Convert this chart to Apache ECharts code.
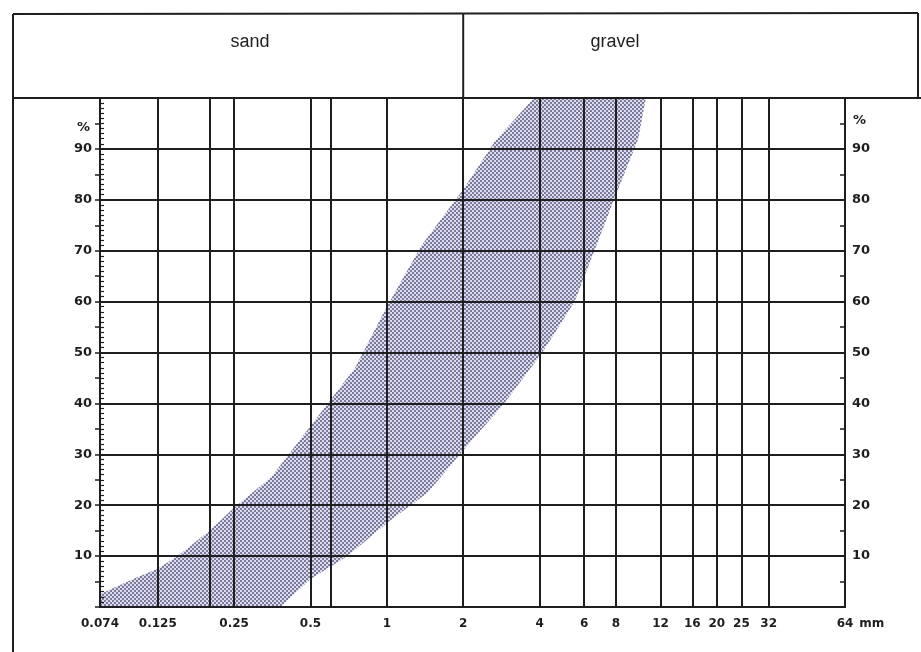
<!DOCTYPE html>
<html>
<head>
<meta charset="utf-8">
<script src="https://cdn.jsdelivr.net/npm/echarts@6/dist/echarts.min.js"></script>
<style>
  html, body { margin: 0; padding: 0; background: #fff; }
  #main { width: 921px; height: 652px; }
</style>
</head>
<body>
<div id="main"></div>
<script>
// grain sizes in mm (log axis)
var sizeTicks = [0.074, 0.125, 0.2, 0.25, 0.5, 0.6, 1, 2, 4, 6, 8, 12, 16, 20, 25, 32, 64];
var sizeLabels = [0.074, 0.125, 0.25, 0.5, 1, 2, 4, 6, 8, 12, 16, 20, 25, 32, 64];
var pctTicks = [10, 20, 30, 40, 50, 60, 70, 80, 90];

// band: upper limit (fine side), % passing
var upperSize = [0.074, 0.1, 0.125, 0.15, 0.2, 0.25, 0.35, 0.5, 0.75, 1, 1.37, 2, 2.67, 3.8];
var upperPct  = [2.5,   5.5, 7.5,   10,   15,  19.5, 25.5, 35.5, 47,   59, 71,  82, 91.5, 100];
// band: lower limit (coarse side)
var lowerSize = [10.5, 9.8, 8,  6.7, 5.5, 4.1, 2.9, 2.1, 1.45, 1,    0.7, 0.5, 0.38, 0.074];
var lowerPct  = [100,  92,  81, 71,  60,  50,  40,  32,  22.5, 16.5, 10,  5.5, 0,    0];

var ink = '#1e1e1e';
var myChart = echarts.init(document.getElementById('main'));

// dotted fill like the printed screen
var pat = document.createElement('canvas');
pat.width = 4; pat.height = 4;
var pc = pat.getContext('2d');
pc.fillStyle = '#dcdcee';
pc.fillRect(0, 0, 4, 4);
pc.fillStyle = '#7a7a9a';
pc.fillRect(0, 0, 2, 2);
pc.fillRect(2, 2, 2, 2);

var bandPoints = [];
for (var i = 0; i < upperSize.length; i++) bandPoints.push([upperSize[i], upperPct[i]]);
for (var j = 0; j < lowerSize.length; j++) bandPoints.push([lowerSize[j], lowerPct[j]]);

var fam = 'DejaVu Sans';

option = {
    backgroundColor: '#fff',
    animation: false,
    grid: { left: 100, right: 76, top: 98, bottom: 45, containLabel: false },
    xAxis: {
        type: 'log',
        logBase: 10,
        min: 0.074,
        max: 64,
        z: 10,
        axisLine: { show: true, lineStyle: { color: ink, width: 2 } },
        axisTick: { show: false, customValues: sizeTicks },
        axisLabel: {
            customValues: sizeLabels,
            margin: 11,
            fontSize: 12,
            fontFamily: fam,
            fontWeight: 'bold',
            color: ink,
            formatter: function (v) { return String(+v.toPrecision(3)); }
        },
        splitLine: { show: true, lineStyle: { color: ink, width: 2 } },
        name: 'mm',
        nameLocation: 'end',
        nameGap: 13,
        nameTextStyle: { fontSize: 12, fontFamily: fam, fontWeight: 'bold', color: ink, verticalAlign: 'top', padding: [11, 0, 0, 0] }
    },
    yAxis: [
        {
            type: 'value', position: 'left', min: 0, max: 100, interval: 10, z: 10,
            axisLine: { show: true, lineStyle: { color: ink, width: 2 } },
            axisTick: { show: true, inside: true, length: 5, lineStyle: { color: ink, width: 1.5 } },
            minorTick: { show: true, splitNumber: 10, length: 4, lineStyle: { color: ink, width: 1.2 } },
            axisLabel: {
                margin: 8, fontSize: 13, fontFamily: fam, fontWeight: 'bold', color: ink,
                formatter: function (v) { return pctTicks.indexOf(v) >= 0 ? v : ''; }
            },
            splitLine: { show: true, lineStyle: { color: ink, width: 2 } },
            name: '%', nameLocation: 'end', nameGap: -30,
            nameTextStyle: { fontSize: 13, fontFamily: fam, fontWeight: 'bold', color: ink, align: 'right', verticalAlign: 'middle', padding: [0, 10, 0, 0] }
        },
        {
            type: 'value', position: 'right', min: 0, max: 100, interval: 5, z: 10,
            axisLine: { show: true, lineStyle: { color: ink, width: 2 } },
            axisTick: { show: true, inside: true, length: 5, lineStyle: { color: ink, width: 1.5 } },
            axisLabel: {
                margin: 7, fontSize: 13, fontFamily: fam, fontWeight: 'bold', color: ink,
                formatter: function (v) { return pctTicks.indexOf(v) >= 0 ? v : ''; }
            },
            splitLine: { show: false },
            name: '%', nameLocation: 'end', nameGap: -23,
            nameTextStyle: { fontSize: 13, fontFamily: fam, fontWeight: 'bold', color: ink, align: 'left', verticalAlign: 'middle', padding: [0, 0, 0, 8] }
        },
        {
            type: 'value', position: 'left', min: 0, max: 100, interval: 5, z: 10,
            axisLine: { show: false },
            axisTick: { show: true, inside: false, length: 5, lineStyle: { color: ink, width: 1.5 } },
            axisLabel: { show: false },
            splitLine: { show: false }
        }
    ],
    series: [
        {
            name: 'band',
            type: 'custom',
            z: -5,
            data: [[upperSize[0], upperPct[0]]],
            renderItem: function (params, api) {
                var pts = bandPoints.map(function (p) { return api.coord(p); });
                return {
                    type: 'polygon',
                    shape: { points: pts },
                    style: { fill: { image: pat, repeat: 'repeat' }, stroke: null }
                };
            }
        }
    ]
};
myChart.setOption(option);

// header box with "sand" / "gravel", divider follows the 2 mm line
var x2 = myChart.convertToPixel({ xAxisIndex: 0 }, 2);
var gridTop = 98;
var lineStyle = { stroke: ink, lineWidth: 2 };
myChart.setOption({
    graphic: [
        { type: 'line', shape: { x1: 13, y1: 14, x2: 918, y2: 13 }, style: lineStyle, z: 20 },
        { type: 'line', shape: { x1: 13, y1: 14, x2: 13, y2: 652 }, style: lineStyle, z: 20 },
        { type: 'line', shape: { x1: 918, y1: 13, x2: 918, y2: gridTop }, style: lineStyle, z: 20 },
        { type: 'line', shape: { x1: 13, y1: gridTop, x2: 921, y2: gridTop }, style: lineStyle, z: 20 },
        { type: 'line', shape: { x1: x2, y1: 13, x2: x2, y2: gridTop }, style: lineStyle, z: 20 },
        { type: 'text', x: 250, y: 42, style: { text: 'sand', fontSize: 18, fontFamily: 'Liberation Sans', fill: ink, align: 'center', verticalAlign: 'middle' }, z: 20 },
        { type: 'text', x: 615, y: 42, style: { text: 'gravel', fontSize: 18, fontFamily: 'Liberation Sans', fill: ink, align: 'center', verticalAlign: 'middle' }, z: 20 }
    ]
});
</script>
</body>
</html>
